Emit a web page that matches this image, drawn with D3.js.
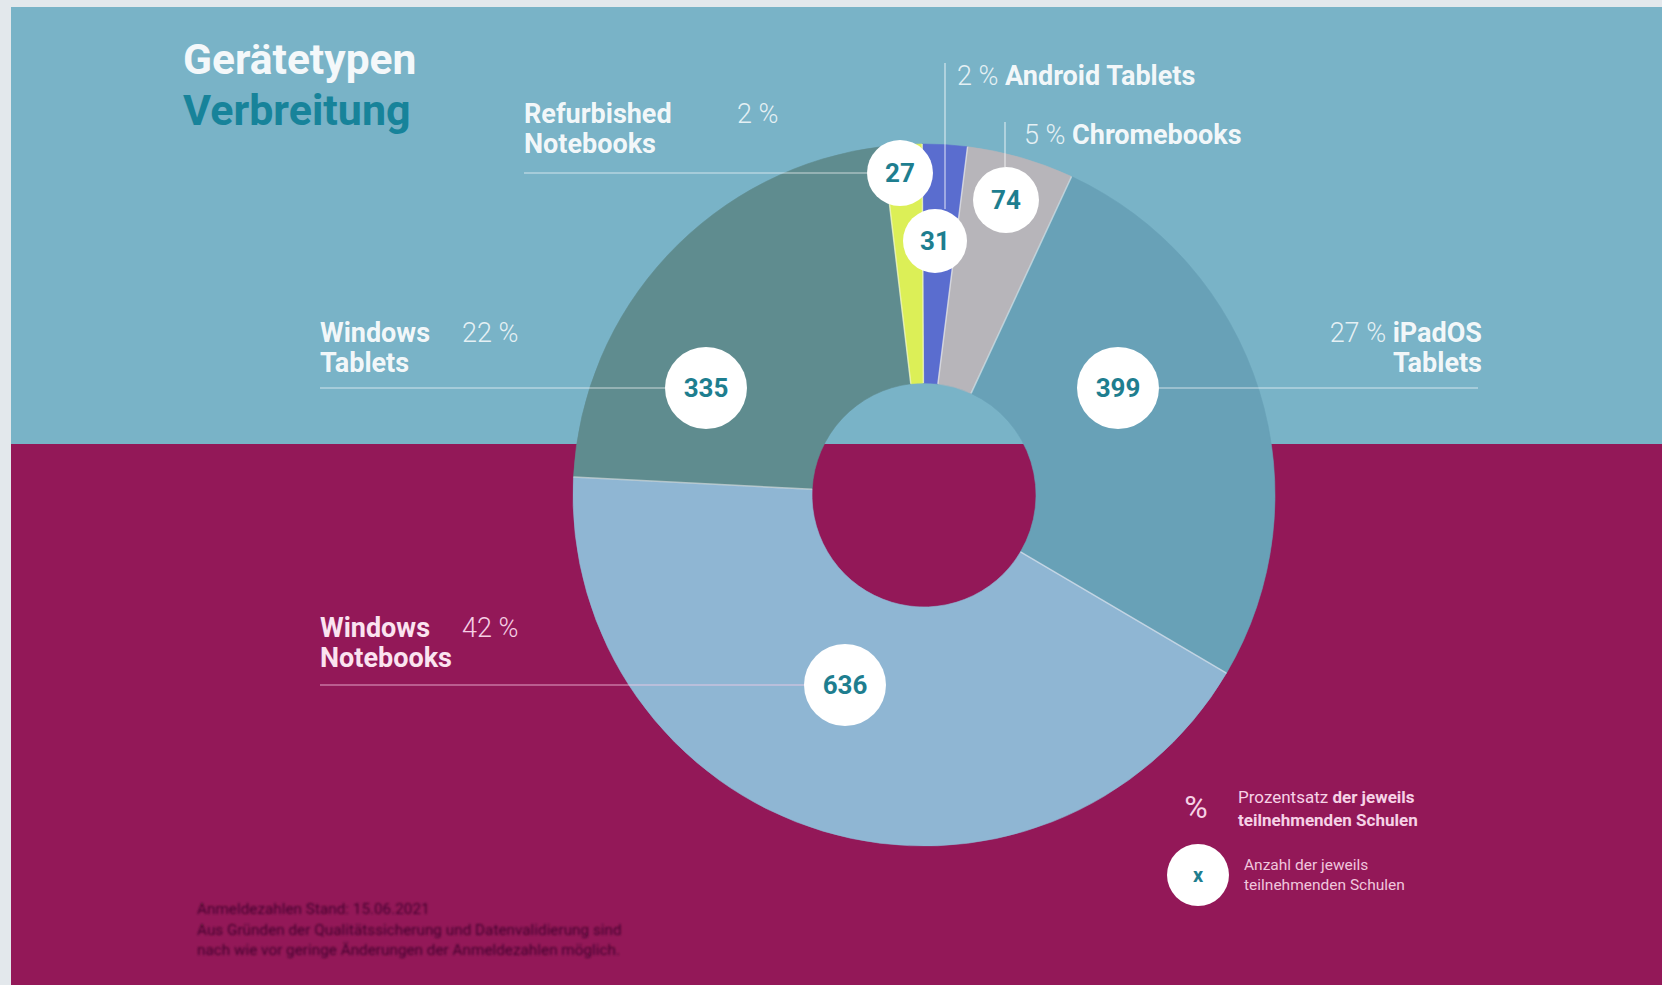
<!DOCTYPE html>
<html>
<head>
<meta charset="utf-8">
<script src="https://cdn.jsdelivr.net/npm/d3@7/dist/d3.min.js"></script>
<style>
  html, body { margin: 0; padding: 0; background: #e3e8ec; }
  svg { display: block; font-family: Roboto, "Noto Sans", sans-serif; }
</style>
</head>
<body>
<svg id="chart" width="1662" height="985"></svg>
<script>
// ---------- data ----------
const categories = ["Android Tablets", "Chromebooks", "iPadOS Tablets", "Windows Notebooks", "Windows Tablets", "Refurbished Notebooks"];
const counts     = [31, 74, 399, 636, 335, 27];
const percents   = [2, 5, 27, 42, 22, 2];
const sliceColors = ["#5a6dcf", "#b7b5ba", "#68a1b7", "#8fb6d3", "#5f8c8f", "#dcef57"];

// ---------- layout (annotation placement, not data) ----------
const W = 1662, H = 985;
const cx = 924, cy = 495, rOuter = 351, rInner = 112;
const bandSplitY = 444;
const bubbles = {
  "Android Tablets":       {dx: 11,   dy: -254, r: 32},
  "Chromebooks":           {dx: 82,   dy: -295, r: 33},
  "iPadOS Tablets":        {dx: 194,  dy: -107, r: 41},
  "Windows Notebooks":     {dx: -79,  dy: 190,  r: 41},
  "Windows Tablets":       {dx: -218, dy: -107, r: 41},
  "Refurbished Notebooks": {dx: -24,  dy: -322, r: 33}
};

const svg = d3.select("#chart");

// backgrounds
svg.append("rect").attr("x", 0).attr("y", 0).attr("width", W).attr("height", H).attr("fill", "#e3e8ec");
svg.append("rect").attr("x", 11).attr("y", 7).attr("width", W - 11).attr("height", bandSplitY - 7).attr("fill", "#79b3c7");
svg.append("rect").attr("x", 11).attr("y", bandSplitY).attr("width", W - 11).attr("height", H - bandSplitY).attr("fill", "#931858");

const defs = svg.append("defs");
defs.append("filter").attr("id", "soft").append("feGaussianBlur").attr("stdDeviation", 0.9);

// donut
const startDeg = -0.3;
const pie = d3.pie().sort(null).value(d => d.count)
  .startAngle(startDeg * Math.PI / 180)
  .endAngle((startDeg + 360) * Math.PI / 180);
const rows = categories.map((c, i) => ({cat: c, count: counts[i], pct: percents[i], color: sliceColors[i]}));
const arcs = pie(rows);
const arc = d3.arc().innerRadius(rInner).outerRadius(rOuter);

const g = svg.append("g").attr("transform", `translate(${cx},${cy})`);
g.selectAll("path.slice").data(arcs).join("path")
  .attr("class", "slice")
  .attr("d", arc)
  .attr("fill", d => d.data.color)
  .attr("stroke", d => d.data.color)
  .attr("stroke-width", 0.6);
// radial separators between slices
g.selectAll("line.sep").data(arcs).join("line")
  .attr("class", "sep")
  .attr("x1", d => rInner * Math.sin(d.startAngle)).attr("y1", d => -rInner * Math.cos(d.startAngle))
  .attr("x2", d => rOuter * Math.sin(d.startAngle)).attr("y2", d => -rOuter * Math.cos(d.startAngle))
  .attr("stroke", "rgba(255,255,255,0.5)").attr("stroke-width", 1.5);

// leader lines
const bx = c => cx + bubbles[c].dx, by = c => cy + bubbles[c].dy, br = c => bubbles[c].r;
const lines = svg.append("g").attr("stroke-width", 1.5);
lines.append("line").attr("x1", 320).attr("x2", bx("Windows Tablets") - br("Windows Tablets"))
  .attr("y1", by("Windows Tablets")).attr("y2", by("Windows Tablets")).attr("stroke", "rgba(255,255,255,0.45)");
lines.append("line").attr("x1", bx("iPadOS Tablets") + br("iPadOS Tablets")).attr("x2", 1478)
  .attr("y1", by("iPadOS Tablets")).attr("y2", by("iPadOS Tablets")).attr("stroke", "rgba(255,255,255,0.45)");
lines.append("line").attr("x1", 320).attr("x2", bx("Windows Notebooks") - br("Windows Notebooks"))
  .attr("y1", by("Windows Notebooks")).attr("y2", by("Windows Notebooks")).attr("stroke", "rgba(255,210,235,0.5)");
lines.append("line").attr("x1", 524).attr("x2", bx("Refurbished Notebooks") - br("Refurbished Notebooks"))
  .attr("y1", by("Refurbished Notebooks")).attr("y2", by("Refurbished Notebooks")).attr("stroke", "rgba(255,255,255,0.45)");
lines.append("line").attr("x1", 945).attr("x2", 945).attr("y1", 63)
  .attr("y2", by("Android Tablets") - br("Android Tablets")).attr("stroke", "rgba(255,255,255,0.55)");
lines.append("line").attr("x1", 1005).attr("x2", 1005).attr("y1", 122)
  .attr("y2", by("Chromebooks") - br("Chromebooks")).attr("stroke", "rgba(255,255,255,0.55)");

// bubbles
const bub = svg.append("g").selectAll("g").data(rows).join("g")
  .attr("transform", d => `translate(${bx(d.cat)},${by(d.cat)})`);
bub.append("circle").attr("r", d => br(d.cat)).attr("fill", "#ffffff");
bub.append("text").text(d => d.count)
  .attr("text-anchor", "middle").attr("dy", "0.36em")
  .attr("font-size", 26).attr("font-weight", 700).attr("fill", "#1e7e8f");

// titles
svg.append("text").attr("x", 183).attr("y", 74).text("Gerätetypen")
  .attr("font-size", 42.5).attr("font-weight", 700).attr("fill", "#f4f8fa");
svg.append("text").attr("x", 183).attr("y", 125).text("Verbreitung")
  .attr("font-size", 43).attr("font-weight", 700).attr("fill", "#17839a");

// category labels
const lbl = svg.append("g").attr("font-size", 27);
function two(x, y, l1, l2, fill, anchor) {
  const t = lbl.append("text").attr("x", x).attr("y", y).attr("fill", fill).attr("font-weight", 700)
    .attr("text-anchor", anchor || "start");
  t.append("tspan").text(l1);
  t.append("tspan").attr("x", x).attr("dy", 30).text(l2);
}
const pctOf = c => percents[categories.indexOf(c)] + " %";
const wTxt = "rgba(255,255,255,0.93)", pTxt = "rgba(255,255,255,0.82)";
const mTxt = "#fbe3f0";

two(524, 123, "Refurbished", "Notebooks", wTxt);
lbl.append("text").attr("x", 737).attr("y", 123).attr("fill", pTxt).attr("font-weight", 300).text(pctOf("Refurbished Notebooks"));

two(320, 342, "Windows", "Tablets", wTxt);
lbl.append("text").attr("x", 462).attr("y", 342).attr("fill", pTxt).attr("font-weight", 300).text(pctOf("Windows Tablets"));

two(320, 637, "Windows", "Notebooks", mTxt);
lbl.append("text").attr("x", 462).attr("y", 637).attr("fill", "#f6cfe4").attr("font-weight", 300).text(pctOf("Windows Notebooks"));

const ta = lbl.append("text").attr("x", 957).attr("y", 85);
ta.append("tspan").attr("fill", pTxt).attr("font-weight", 300).text(pctOf("Android Tablets") + " ");
ta.append("tspan").attr("fill", wTxt).attr("font-weight", 700).text("Android Tablets");
const tc = lbl.append("text").attr("x", 1024).attr("y", 144);
tc.append("tspan").attr("fill", pTxt).attr("font-weight", 300).text(pctOf("Chromebooks") + " ");
tc.append("tspan").attr("fill", wTxt).attr("font-weight", 700).text("Chromebooks");
const ti = lbl.append("text").attr("x", 1482).attr("y", 342).attr("text-anchor", "end");
ti.append("tspan").attr("fill", pTxt).attr("font-weight", 300).text(pctOf("iPadOS Tablets") + " ");
ti.append("tspan").attr("fill", wTxt).attr("font-weight", 700).text("iPadOS");
lbl.append("text").attr("x", 1482).attr("y", 372).attr("text-anchor", "end")
  .attr("fill", wTxt).attr("font-weight", 700).text("Tablets");

// legend
const leg = svg.append("g");
leg.append("text").attr("x", 1196).attr("y", 818).attr("text-anchor", "middle")
  .attr("font-size", 32).attr("font-weight", 400).attr("fill", "#f6d2e6").text("%");
const l1 = leg.append("text").attr("x", 1238).attr("y", 803).attr("font-size", 17).attr("fill", "#f6d2e6");
l1.append("tspan").attr("font-weight", 400).text("Prozentsatz ");
l1.append("tspan").attr("font-weight", 700).text("der jeweils");
leg.append("text").attr("x", 1238).attr("y", 826).attr("font-size", 17).attr("fill", "#f6d2e6")
  .attr("font-weight", 700).text("teilnehmenden Schulen");
leg.append("circle").attr("cx", 1198).attr("cy", 875).attr("r", 31).attr("fill", "#ffffff");
leg.append("text").attr("x", 1198).attr("y", 875).attr("dy", "0.34em").attr("text-anchor", "middle")
  .attr("font-size", 20).attr("font-weight", 700).attr("fill", "#1e7e8f").text("x");
leg.append("text").attr("x", 1244).attr("y", 870).attr("font-size", 15.5).attr("fill", "#f0c6dd").text("Anzahl der jeweils");
leg.append("text").attr("x", 1244).attr("y", 890).attr("font-size", 15.5).attr("fill", "#f0c6dd").text("teilnehmenden Schulen");

// footnote (blurred in the original)
const fn = svg.append("g").attr("filter", "url(#soft)").attr("font-size", 15.3).attr("fill", "#43092e");
["Anmeldezahlen Stand: 15.06.2021",
 "Aus Gründen der Qualitätssicherung und Datenvalidierung sind",
 "nach wie vor geringe Änderungen der Anmeldezahlen möglich."].forEach((s, i) => {
  fn.append("text").attr("x", 197).attr("y", 914 + i * 20.5).text(s);
});
</script>
</body>
</html>
